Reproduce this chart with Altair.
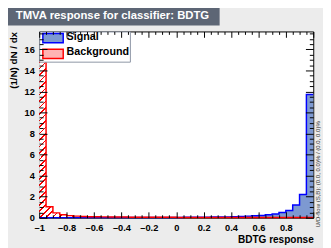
import altair as alt
import pandas as pd

# ---------------- data ----------------
bin_lo = [round(-1 + 0.05 * i, 2) for i in range(40)]
signal = [0.01, 0.01, 0.01, 0.01, 0.01, 0.01, 0.01, 0.01, 0.01, 0.01,
          0.02, 0.02, 0.02, 0.02, 0.02, 0.02, 0.02, 0.03, 0.03, 0.03,
          0.03, 0.04, 0.04, 0.05, 0.05, 0.06, 0.07, 0.08, 0.10, 0.12,
          0.15, 0.18, 0.22, 0.28, 0.36, 0.50, 0.68, 1.20, 2.20, 11.70]
background = [14.85, 1.05, 0.46, 0.28, 0.20, 0.15, 0.12, 0.10, 0.09, 0.08,
              0.07, 0.06, 0.06, 0.05, 0.05, 0.05, 0.04, 0.04, 0.04, 0.04,
              0.03, 0.03, 0.03, 0.03, 0.03, 0.03, 0.02, 0.02, 0.02, 0.02,
              0.02, 0.02, 0.02, 0.02, 0.02, 0.02, 0.02, 0.02, 0.02, 0.02]
x_labels = [-1.0, -0.8, -0.6, -0.4, -0.2, 0.0, 0.2, 0.4, 0.6, 0.8]
x_major = x_labels + [1.0]
x_minor = [round(-1 + 0.05 * i, 2) for i in range(41) if i % 4 != 0]
y_major = [0, 2, 4, 6, 8, 10, 12, 14, 16]
y_minor = [0.5 * i for i in range(36) if i % 4 != 0]
legend_names = ["Signal", "Background"]
title_text = "TMVA response for classifier: BDTG"
flow_text = "U/O-flow (S,B): (0.0, 0.0)% / (0.0, 0.0)%"
x_title = "BDTG response"
y_title = "(1/N) dN / dx"
YMAX = 17.7

# ---------------- layout / style ----------------
W, H = 281, 191
FONT = "Liberation Sans"

hist = pd.DataFrame({
    "x": bin_lo + [1.0],
    "sig": signal + [signal[-1]],
    "bkg": background + [background[-1]],
})

xsc = alt.Scale(domain=[-1, 1], nice=False, zero=False)
ysc = alt.Scale(domain=[0, YMAX], nice=False, zero=True)

# hatch (/) as a striped linear gradient
n_str, frac = 56, 0.25
r = 160.0 / 281.0
stops = []
for k in range(n_str):
    a, b, c = k / n_str, (k + frac) / n_str, (k + 1) / n_str
    stops += [alt.GradientStop(offset=a, color="#ff0000"),
              alt.GradientStop(offset=b, color="#ff0000"),
              alt.GradientStop(offset=b, color="#ffffff"),
              alt.GradientStop(offset=c, color="#ffffff")]
hatch = alt.LinearGradient(gradient="linear", stops=stops, x1=0, y1=0, x2=1, y2=r)


def xtick(orient, vals, size):
    return alt.Axis(orient=orient, offset=-H, values=vals, tickSize=size,
                    tickColor="black", tickWidth=1, labels=False, domain=False,
                    grid=False, zindex=2)


def ytick(orient, vals, size):
    return alt.Axis(orient=orient, offset=-W, values=vals, tickSize=size,
                    tickColor="black", tickWidth=1, labels=False, domain=False,
                    grid=False, zindex=2)


x_lab_axis = alt.Axis(orient="bottom", values=x_labels, ticks=False, domain=False,
                      grid=False, labelFont=FONT, labelFontSize=9.5,
                      labelFontWeight="bold", labelColor="black", labelPadding=5,
                      labelFlush=False, labelOverlap=False,
                      labelExpr="replace(format(datum.value, '.1~f'), '\u2212', '\u2013')",
                      title=x_title, titleFont=FONT, titleFontSize=10.3,
                      titleFontWeight="bold", titleColor="black", titleX=W,
                      titleY=25, titleAlign="right", titleBaseline="alphabetic",
                      zindex=2)
y_lab_axis = alt.Axis(orient="left", values=y_major, ticks=False, domain=False,
                      grid=False, labelFont=FONT, labelFontSize=9.5,
                      labelFontWeight="bold", labelColor="black", labelPadding=5,
                      labelFlush=False, labelOverlap=False,
                      title=y_title, titleFont=FONT, titleFontSize=10,
                      titleFontWeight="bold", titleColor="black", titleAngle=270,
                      titleX=-26, titleY=0, titleAlign="right",
                      titleBaseline="middle", zindex=2)

base = alt.Chart(hist)

bkg_area = base.mark_area(interpolate="step-after", fill=hatch).encode(
    x=alt.X("x:Q", scale=xsc, axis=x_lab_axis),
    y=alt.Y("bkg:Q", scale=ysc, axis=y_lab_axis),
)
sig_area = base.mark_area(interpolate="step-after", color="#7d99d1").encode(
    x=alt.X("x:Q", scale=xsc, axis=xtick("top", x_major, 6), title=None),
    y=alt.Y("sig:Q", scale=ysc, axis=ytick("right", y_major, 8), title=None),
)
sig_line = base.mark_line(interpolate="step-after", color="#0000ff", strokeWidth=1.5).encode(
    x=alt.X("x:Q", scale=xsc, axis=xtick("bottom", x_major, 6), title=None),
    y=alt.Y("sig:Q", scale=ysc, axis=ytick("left", y_major, 8), title=None),
)
bkg_line = base.mark_line(interpolate="step-after", color="#ff0000", strokeWidth=1.5).encode(
    x=alt.X("x:Q", scale=xsc, axis=xtick("top", x_minor, 3), title=None),
    y=alt.Y("bkg:Q", scale=ysc, axis=ytick("right", y_minor, 4), title=None),
)
extra = base.mark_line(opacity=0).encode(
    x=alt.X("x:Q", scale=xsc, axis=xtick("bottom", x_minor, 3), title=None),
    y=alt.Y("bkg:Q", scale=ysc, axis=ytick("left", y_minor, 4), title=None),
)

leg = alt.Legend(orient="none", legendX=0, legendY=0, title=None,
                 fillColor="white", strokeColor="#8c94a3", padding=0,
                 rowPadding=0, symbolType="M-0.37,-0.7H4.03V1.3H-0.37Z", symbolSize=90,
                 symbolStrokeWidth=1.5, symbolOpacity=1, labelFont=FONT,
                 labelFontWeight="bold", labelFontSize=11, labelColor="black",
                 labelOffset=17)
legend_layer = alt.Chart(pd.DataFrame({"name": legend_names})).mark_point(
    filled=True, opacity=0).encode(
    x=alt.value(0), y=alt.value(0),
    fill=alt.Fill("name:N", scale=alt.Scale(domain=legend_names,
                                            range=["#7d99d1", "#ffb3b3"]), legend=leg),
    stroke=alt.Stroke("name:N", scale=alt.Scale(domain=legend_names,
                                                range=["#0000ff", "#ff0000"]), legend=leg),
)

ttl_df = pd.DataFrame({"t": [title_text]})
title_box = alt.Chart(ttl_df).mark_rect(color="#5d6675").encode(
    x=alt.value(-32), x2=alt.value(185), y=alt.value(-24), y2=alt.value(-6))
title_txt = alt.Chart(ttl_df).mark_text(
    align="left", baseline="alphabetic", font=FONT, fontSize=11.6,
    fontWeight="bold", color="white").encode(
    x=alt.value(-24), y=alt.value(-12.3), text="t:N")
flow = alt.Chart(pd.DataFrame({"t": [flow_text]})).mark_text(
    angle=270, align="left", baseline="middle", font=FONT, fontSize=6.2,
    color="#333333").encode(x=alt.value(W + 5), y=alt.value(H + 10), text="t:N")

chart = alt.layer(
    bkg_area, sig_area, sig_line, bkg_line, extra, legend_layer,
    title_box, title_txt, flow
).resolve_axis(x="independent", y="independent").properties(
    width=W, height=H,
    autosize=alt.AutoSizeParams(type="none"),
    padding={"left": 32, "top": 21, "right": 10, "bottom": 28},
    background="#ececec",
).configure_view(stroke="black", strokeWidth=1, fill="white")

chart.save("out.html", embed_options={"renderer": "svg", "actions": False})
